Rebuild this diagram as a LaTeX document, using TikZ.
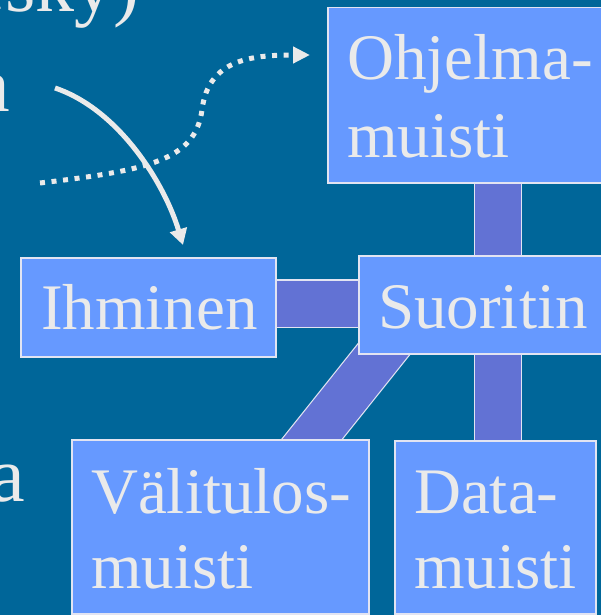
\documentclass[tikz,border=0pt]{standalone}
\usepackage{fontspec}
\setmainfont{Liberation Serif}
\usetikzlibrary{arrows.meta}
\definecolor{bgc}{HTML}{006699}
\definecolor{boxc}{HTML}{6699FF}
\definecolor{barc}{HTML}{6272D4}
\definecolor{txt}{HTML}{EAEAEA}
\definecolor{edge}{HTML}{E2E4F2}
\pgfdeclarelayer{canvas}
\pgfdeclarelayer{back}
\pgfsetlayers{canvas,back,main}
\begin{document}
\begin{tikzpicture}[x=1pt,y=-1pt,
  blk/.style={draw=edge, line width=1.5pt, fill=boxc, anchor=north west, inner sep=0pt},
  lbl/.style={text=txt, anchor=base west, inner sep=0pt, font=\fontsize{65}{76}\selectfont},
  frag/.style={text=txt, anchor=base west, inner sep=0pt, font=\fontsize{78}{90}\selectfont},
  bar/.style={draw=edge, line width=1.2pt, double=barc, double distance=46pt},
  solidarrow/.style={draw=txt, line width=5pt, -{Triangle[length=16pt,width=17pt]}},
  dotarrow/.style={draw=txt, line width=5pt, dash pattern=on 5pt off 6.6pt, -{Triangle[length=17pt,width=16pt]}}]
\useasboundingbox (0,0) rectangle (601,615);
\clip (0,0) rectangle (601,615);
\begin{pgfonlayer}{canvas}
\fill[bgc] (0,0) rectangle (601,615);
\end{pgfonlayer}

% fragments of slide text
\node[frag] (f1) at (-29.5,12) {esky)};
\node[frag] (f2) at (-25,111) {a};
\node[frag] (f3) at (-10,501) {a};

% boxes
\node[blk, minimum width=300pt, minimum height=175pt] (ohj) at (327,7) {};
\node[blk, minimum width=270pt, minimum height=98pt] (suo) at (358,255) {};
\node[blk, minimum width=255pt, minimum height=99pt] (ihm) at (20,257) {};
\node[blk, minimum width=297pt, minimum height=174pt] (val) at (71,439) {};
\node[blk, minimum width=201pt, minimum height=173pt] (dat) at (394,440) {};

% labels
\node[lbl] (ohj1) at (347,80) {Ohjelma-};
\node[lbl] (ohj2) at (347,157) {muisti};
\node[lbl] (ihmT) at (41,329) {Ihminen};
\node[lbl] (suoT) at (378,328) {Suoritin};
\node[lbl] (val1) at (91,513) {Välitulos-};
\node[lbl] (val2) at (91,588) {muisti};
\node[lbl] (dat1) at (414,513) {Data-};
\node[lbl] (dat2) at (414,588) {muisti};

% bars (behind boxes)
\coordinate (vx) at (498,0);
\coordinate (hy) at (0,303.5);
\coordinate (d1) at (400,329);
\coordinate (d2) at (297,458);
\begin{pgfonlayer}{back}
\draw[bar] (vx |- ohj.center) -- (vx |- dat.center);
\draw[bar] (ihm.center |- hy) -- (suo.center |- hy);
\draw[bar] (d1) -- (d2);
\end{pgfonlayer}

% arrows
\coordinate (s1) at (55,88);
\coordinate (e1) at (183,245);
\draw[solidarrow] (s1) .. controls (120,110) and (165,185) .. (e1);
\coordinate (s2) at (40,183);
\coordinate (m2) at (202,110);
\coordinate (e2) at (310,55);
\draw[dotarrow] (s2) .. controls (150,170) and (195,160) .. (m2)
  .. controls (208,60) and (250,55) .. (e2);
\end{tikzpicture}
\end{document}
